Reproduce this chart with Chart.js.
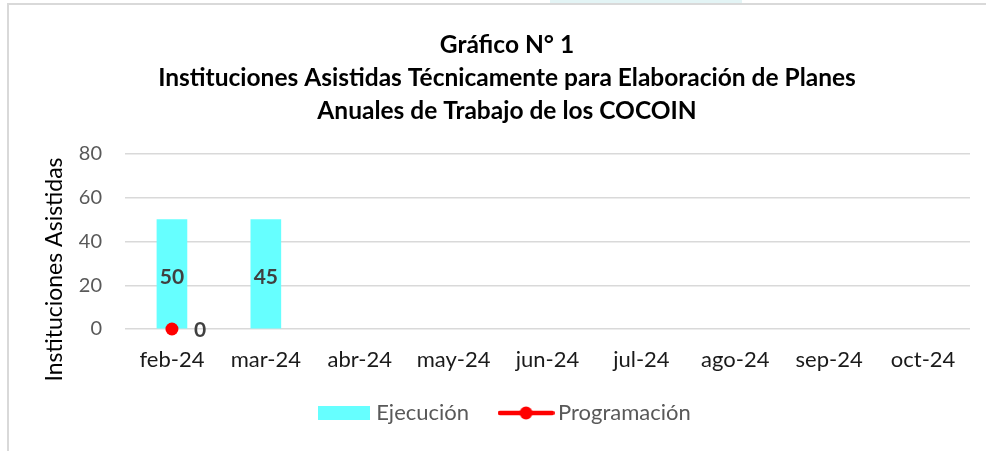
<!DOCTYPE html>
<html>
<head>
<meta charset="utf-8">
<script src="https://cdn.jsdelivr.net/npm/chart.js@4/dist/chart.umd.min.js"></script>
<style>
html, body { margin: 0; padding: 0; background: #ffffff; }
#wrap { position: relative; width: 986px; height: 451px; overflow: hidden; }
#c { position: absolute; left: 0; top: 0; }
.tab { position: absolute; left: 550px; top: 0; width: 192px; height: 3px; background: #e3f4f5; }
.frameTop { position: absolute; left: 7px; top: 3px; width: 979px; height: 2px; background: #d9d9d9; }
.frameLeft { position: absolute; left: 7px; top: 3px; width: 2px; height: 448px; background: #d9d9d9; }
</style>
</head>
<body>
<div id="wrap">
  <div class="tab"></div>
  <canvas id="c" width="986" height="451"></canvas>
  <div class="frameTop"></div>
  <div class="frameLeft"></div>
</div>
<script>
// ---- data ----
const categories = ['feb-24', 'mar-24', 'abr-24', 'may-24', 'jun-24', 'jul-24', 'ago-24', 'sep-24', 'oct-24'];
const ejecucion = [50, 50, null, null, null, null, null, null, null];
const ejecucionLabels = ['50', '45', null, null, null, null, null, null, null];
const programacion = [0, null, null, null, null, null, null, null, null];
const programacionLabels = ['0', null, null, null, null, null, null, null, null];
const seriesNames = ['Ejecución', 'Programación'];
const titleLines = ['Gráfico N° 1', 'Instituciones Asistidas Técnicamente para Elaboración de Planes', 'Anuales de Trabajo de los COCOIN'];
const yTitle = 'Instituciones Asistidas';
const yMin = 0, yMax = 80, yStep = 20;

// ---- styles ----
const FONT = 'Lato';
const barColor = '#66FFFF';
const lineColor = '#FF0000';

function makeBoxImg(w, h, color) {
  const c = document.createElement('canvas');
  c.width = w; c.height = h;
  const g = c.getContext('2d');
  g.fillStyle = color;
  g.fillRect(0, 0, w, h);
  return c;
}
function makeLineDotImg(w, h, color, r, lw) {
  const c = document.createElement('canvas');
  c.width = w; c.height = h;
  const g = c.getContext('2d');
  g.strokeStyle = color; g.lineWidth = lw; g.lineCap = 'round';
  g.beginPath(); g.moveTo(lw / 2, h / 2); g.lineTo(w - lw / 2, h / 2); g.stroke();
  g.fillStyle = color;
  g.beginPath(); g.arc(w / 2, h / 2, r, 0, Math.PI * 2); g.fill();
  return c;
}
const legendBoxImg = makeBoxImg(52, 14, barColor);
const legendLineImg = makeLineDotImg(57, 14, lineColor, 6.5, 4.5);

// value labels drawn at the positions of the library's own elements
const valueLabels = {
  id: 'valueLabels',
  afterDatasetsDraw(chart) {
    const ctx = chart.ctx;
    ctx.save();
    ctx.font = 'bold 21px ' + FONT;
    ctx.fillStyle = '#404040';
    ctx.textBaseline = 'middle';
    const mBar = chart.getDatasetMeta(0);
    mBar.data.forEach((el, i) => {
      const t = ejecucionLabels[i];
      if (t == null || ejecucion[i] == null) return;
      const p = el.getProps(['x', 'y', 'base'], true);
      ctx.textAlign = 'center';
      ctx.fillText(t, p.x, (p.y + p.base) / 2 + 3);
    });
    const mLine = chart.getDatasetMeta(1);
    mLine.data.forEach((el, i) => {
      const t = programacionLabels[i];
      if (t == null || programacion[i] == null) return;
      ctx.textAlign = 'left';
      ctx.fillText(t, el.x + 22, el.y + 1);
    });
    ctx.restore();
  }
};

// y axis title, centred a little below the plot centre as in the original
const yAxisTitle = {
  id: 'yAxisTitle',
  afterDraw(chart) {
    const ctx = chart.ctx;
    const s = chart.scales.y;
    const a = chart.chartArea;
    ctx.save();
    ctx.translate(s.left + 26.5, (a.top + a.bottom) / 2 + 28);
    ctx.rotate(-Math.PI / 2);
    ctx.font = '23px ' + FONT;
    ctx.fillStyle = '#000000';
    ctx.textAlign = 'center';
    ctx.textBaseline = 'middle';
    ctx.fillText(yTitle, 0, 0);
    ctx.restore();
  }
};

new Chart(document.getElementById('c'), {
  type: 'bar',
  data: {
    labels: categories,
    datasets: [
      {
        type: 'bar',
        label: seriesNames[0],
        data: ejecucion,
        backgroundColor: barColor,
        borderWidth: 0,
        barThickness: 30,
        order: 1,
        yAxisID: 'y'
      },
      {
        type: 'line',
        label: seriesNames[1],
        data: programacion,
        borderColor: lineColor,
        backgroundColor: lineColor,
        borderWidth: 4.5,
        pointRadius: 6.5,
        pointHoverRadius: 6.5,
        pointBackgroundColor: lineColor,
        pointBorderWidth: 0,
        clip: false,
        order: 0,
        yAxisID: 'y'
      }
    ]
  },
  options: {
    responsive: false,
    animation: false,
    devicePixelRatio: 1,
    layout: { padding: { left: 28, right: 0, top: 0, bottom: 17 } },
    scales: {
      x: {
        grid: { display: false, drawTicks: false },
        border: { display: false },
        ticks: { color: '#1a1a1a', font: { family: FONT, size: 22 }, mirror: true, padding: -44.4, maxRotation: 0 },
        afterFit(s) { s.height = 37; }
      },
      y: {
        position: 'left',
        min: yMin, max: yMax,
        ticks: { stepSize: yStep, color: '#595959', font: { family: FONT, size: 20 }, padding: 23 },
        grid: { color: '#d9d9d9', lineWidth: 1.5, drawTicks: false },
        border: { display: false },
        title: { display: false, text: yTitle },
        afterFit(s) { s.width = 97; }
      },
      yR: {
        position: 'right',
        display: true,
        grid: { display: false, drawTicks: false },
        border: { display: false },
        ticks: { display: false },
        afterFit(s) { s.width = 16; }
      }
    },
    plugins: {
      title: {
        display: true,
        text: titleLines,
        color: '#000000',
        font: { family: FONT, size: 24.5, weight: 'bold', lineHeight: '33px' },
        padding: { top: 29, bottom: 26 }
      },
      legend: {
        position: 'bottom',
        labels: {
          usePointStyle: true,
          pointStyleWidth: 42,
          boxHeight: 14,
          padding: 36,
          color: '#595959',
          font: { family: FONT, size: 22 },
          generateLabels(chart) {
            const items = Chart.defaults.plugins.legend.labels.generateLabels(chart);
            items.sort((a, b) => a.datasetIndex - b.datasetIndex);
            items.forEach(it => {
              it.pointStyle = it.datasetIndex === 0 ? legendBoxImg : legendLineImg;
            });
            return items;
          }
        }
      },
      tooltip: { enabled: false }
    }
  },
  plugins: [valueLabels, yAxisTitle]
});
</script>
</body>
</html>
